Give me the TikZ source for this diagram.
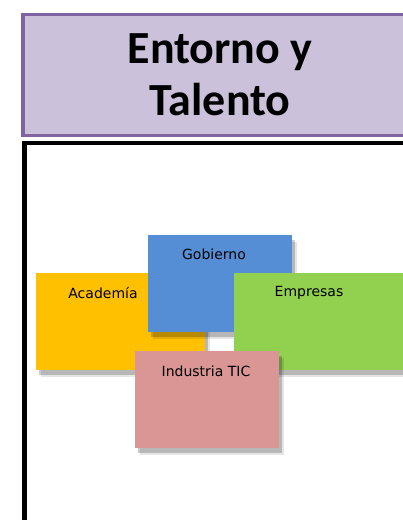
\documentclass[tikz,border=0pt]{standalone}
\usepackage{fontspec}
\setmainfont{Carlito}
\newfontfamily\letracaja{DejaVu Sans}
\usetikzlibrary{shadows}

\definecolor{lilaborde}{HTML}{8064A2}
\definecolor{lilafondo}{HTML}{CCC1DA}
\definecolor{oroaca}{HTML}{FFC000}
\definecolor{azulgob}{HTML}{558ED5}
\definecolor{verdeemp}{HTML}{92D050}
\definecolor{rosaind}{HTML}{D99694}

\tikzset{
  cajon/.style={rectangle, anchor=north west, inner sep=0pt,
    drop shadow={shadow xshift=5pt, shadow yshift=-7pt, opacity=.10, fill=black},
    drop shadow={shadow xshift=3pt, shadow yshift=-4.5pt, opacity=.20, fill=black}},
  etiqueta/.style={font=\letracaja\fontsize{14}{16}\selectfont},
  titulo/.style={rectangle, draw=lilaborde, line width=3.5pt, fill=lilafondo,
    align=center, font=\bfseries\fontsize{46}{52}\selectfont}
}

\begin{document}
\begin{tikzpicture}[x=1pt,y=-1pt]
\useasboundingbox (0,0) rectangle (403,520);

% marco
\draw[line width=4.5pt] (24.5,525) -- (24.5,143) -- (410,143);
\node (titulo) [titulo, minimum width=394pt, minimum height=121pt] at (220,75) {Entorno y\\Talento};

% cajas
\node (aca) [cajon, fill=oroaca, minimum width=169pt, minimum height=97pt] at (36,273) {};
\node (gob) [cajon, fill=azulgob, minimum width=144pt, minimum height=97pt] at (148,235) {};
\node (emp) [cajon, fill=verdeemp, minimum width=184pt, minimum height=97pt] at (234,273) {};
\node (ind) [cajon, fill=rosaind, minimum width=144pt, minimum height=97pt] at (135,351) {};

\node (acalbl) [etiqueta] at (103,293) {Academía};
\node (goblbl) [etiqueta] at (214,254) {Gobierno};
\node (emplbl) [etiqueta] at (309,293) {Empresas};
\node (indlbl) [etiqueta] at (206,371) {Industria TIC};

\end{tikzpicture}
\end{document}
